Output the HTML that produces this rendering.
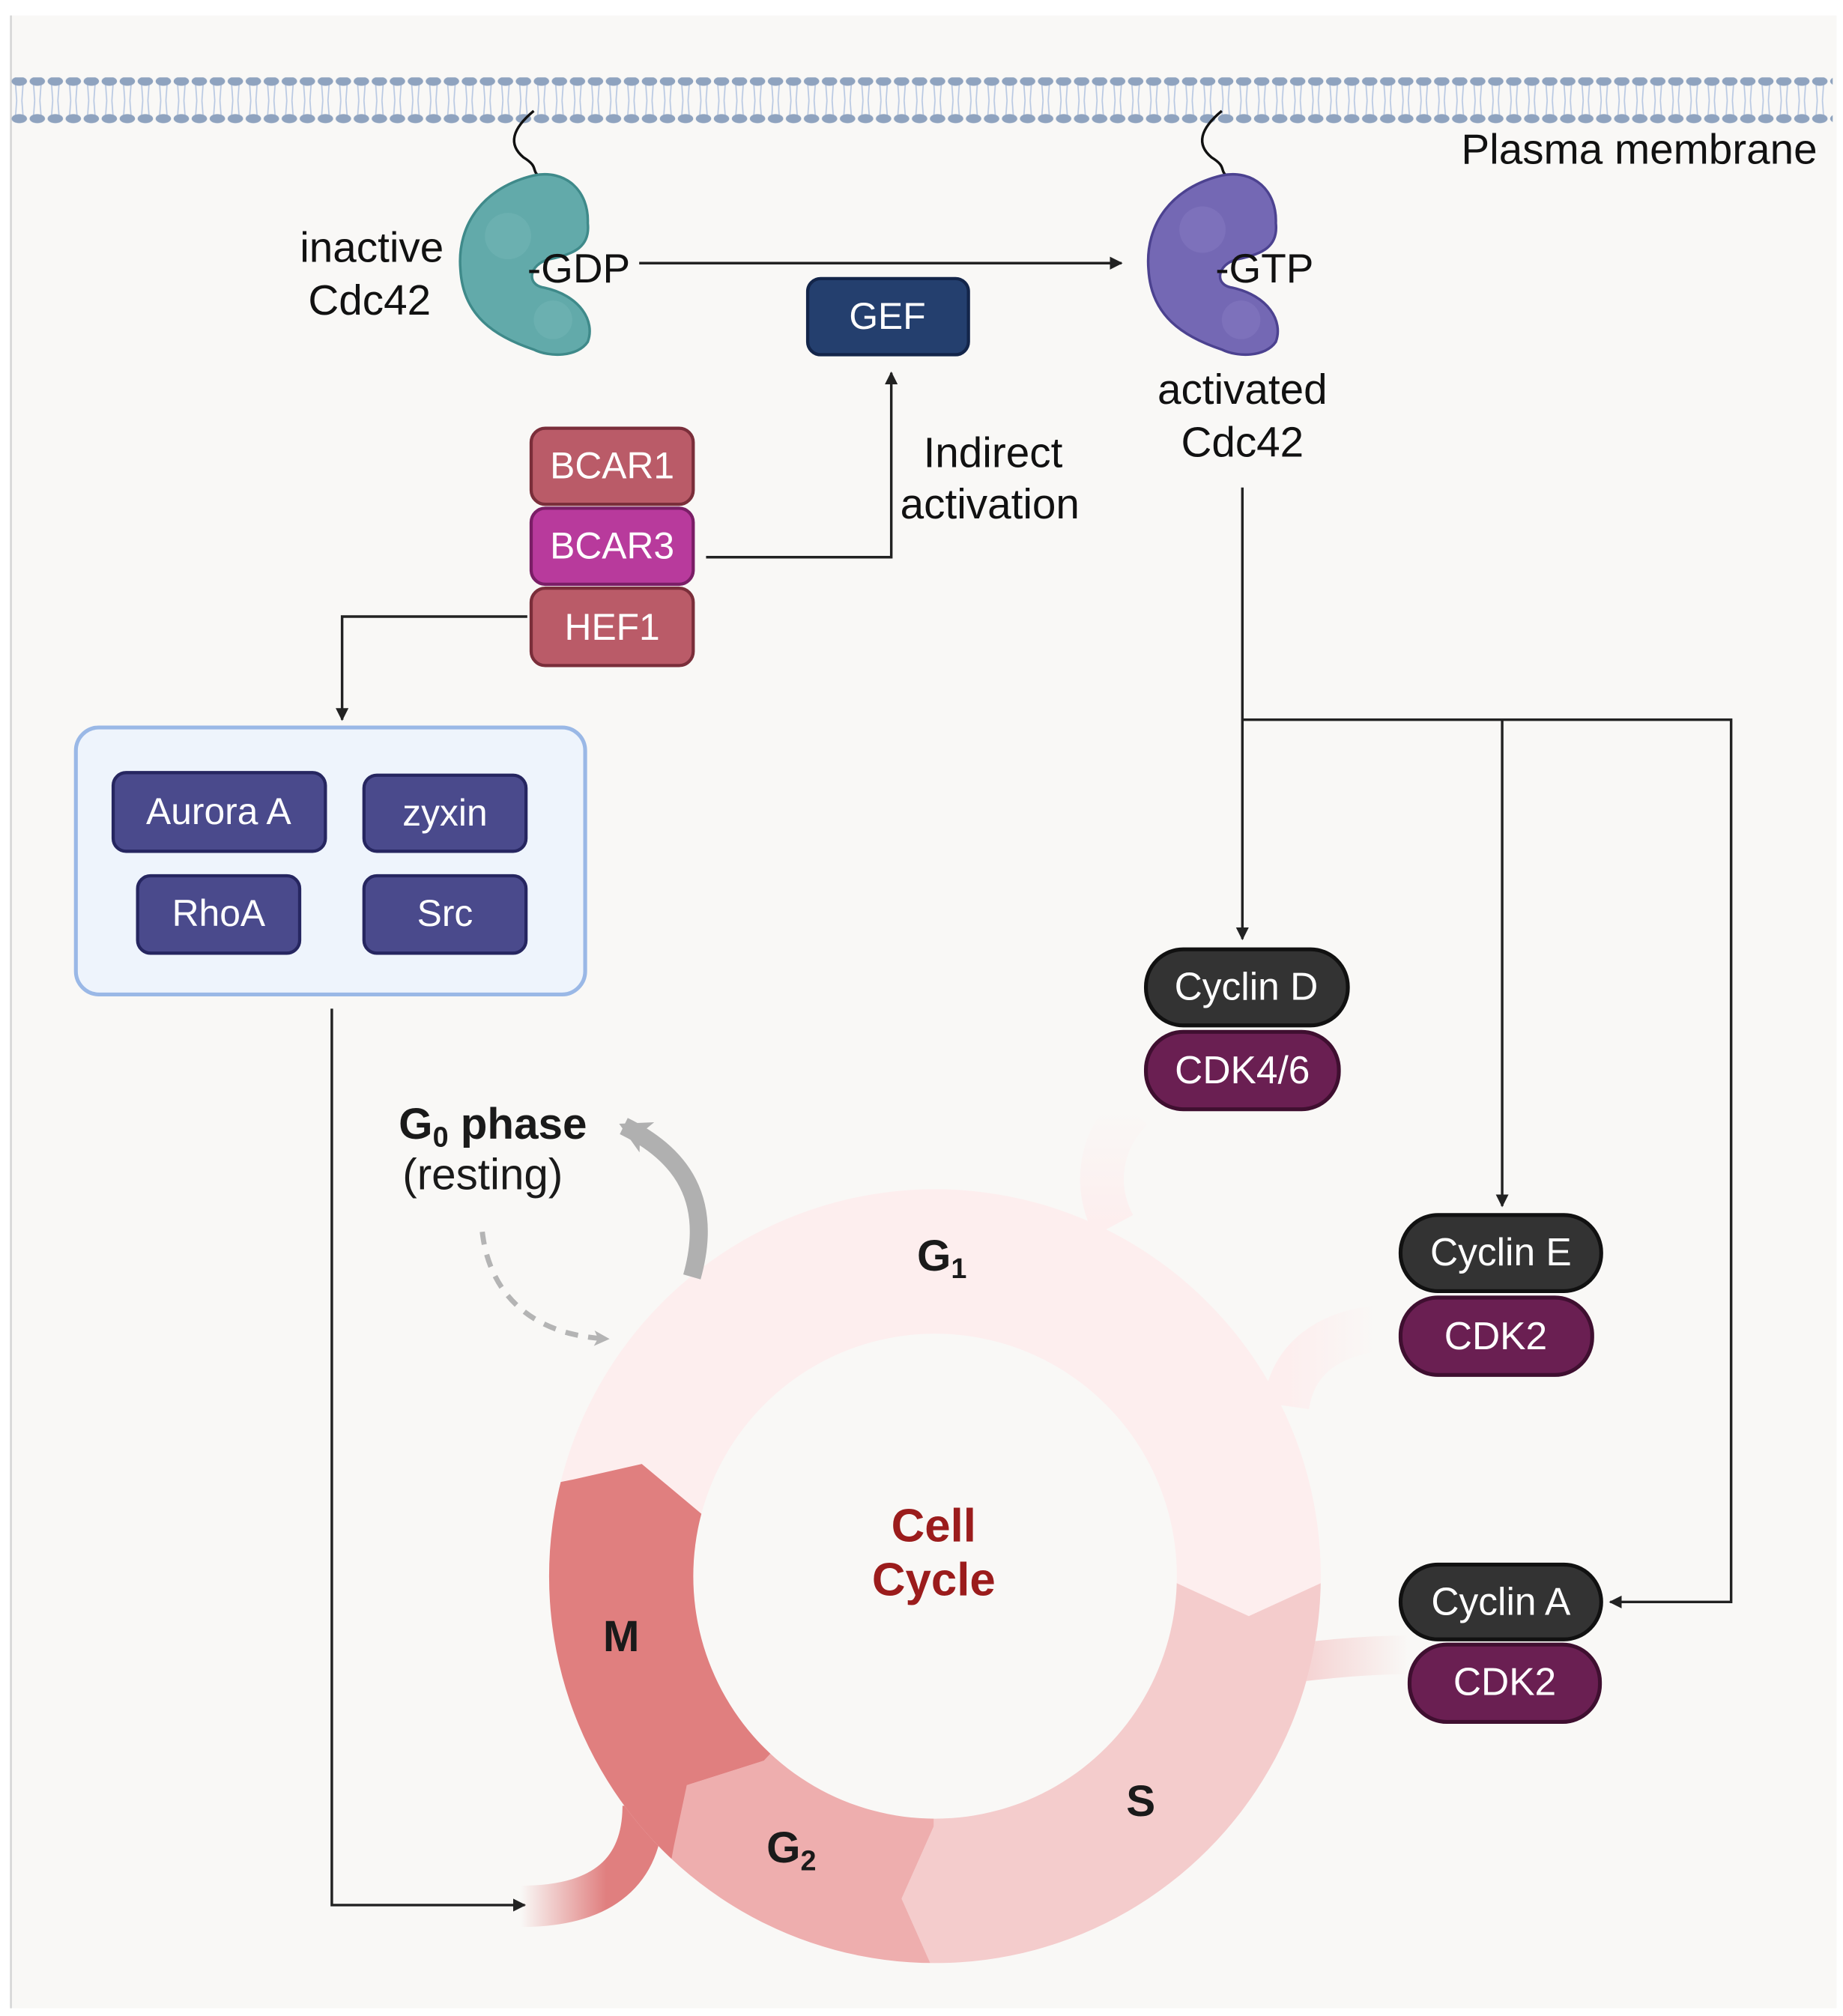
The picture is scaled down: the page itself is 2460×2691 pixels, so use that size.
<!DOCTYPE html>
<html><head><meta charset="utf-8"><style>
html,body{margin:0;padding:0;background:#fff}
svg{display:block}
text{font-family:"Liberation Sans",sans-serif}
</style></head><body>
<svg width="2460" height="2691" viewBox="0 0 1433 1563" preserveAspectRatio="none" xmlns="http://www.w3.org/2000/svg">
<defs>
<pattern id="mem" x="8" y="60" width="14" height="40" patternUnits="userSpaceOnUse">
<path d="M4 64 L5 78 M10 64 L9 78 M5 78 L4 91 M9 78 L10 91" stroke="#b8c8e2" stroke-width="1" fill="none" transform="translate(0,-60)"/>
<ellipse cx="7" cy="3" rx="6" ry="3.5" fill="#8fa3bf"/>
<ellipse cx="7" cy="32" rx="6" ry="3.5" fill="#8fa3bf"/>
</pattern>
<clipPath id="ring"><path clip-rule="evenodd" d="M727 922 A300 300 0 1 1 726.9 922 Z M727 1034 A188 188 0 1 0 727.1 1034 Z"/></clipPath>
<marker id="ah" markerWidth="10" markerHeight="10" refX="9" refY="5" orient="auto" markerUnits="userSpaceOnUse"><path d="M0 0 L10 5 L0 10 Z" fill="#222"/></marker>
<marker id="gh" markerWidth="12" markerHeight="12" refX="10" refY="6" orient="auto" markerUnits="userSpaceOnUse"><path d="M0 0 L12 6 L0 12 L3 6 Z" fill="#b4b4b4"/></marker>
<marker id="gh2" markerWidth="30" markerHeight="30" refX="20" refY="15" orient="auto" markerUnits="userSpaceOnUse"><path d="M0 2 L24 15 L0 28 L6 15 Z" fill="#b0b0b0"/></marker>
<linearGradient id="fu" x1="0" y1="1" x2="0" y2="0"><stop offset="0" stop-color="#fdeeee"/><stop offset="1" stop-color="#fdeeee" stop-opacity="0"/></linearGradient>
<linearGradient id="fr" x1="0" y1="0" x2="1" y2="0"><stop offset="0" stop-color="#fdeeee"/><stop offset="1" stop-color="#fdeeee" stop-opacity="0"/></linearGradient>
<linearGradient id="fs" x1="0" y1="0" x2="1" y2="0"><stop offset="0" stop-color="#f4cccc"/><stop offset="1" stop-color="#f4cccc" stop-opacity="0"/></linearGradient>
<linearGradient id="fm" x1="1" y1="0" x2="0" y2="0"><stop offset="0.3" stop-color="#e07f7f"/><stop offset="1" stop-color="#e07f7f" stop-opacity="0"/></linearGradient>
</defs>
<rect x="0" y="0" width="1433" height="1563" fill="#fff"/>
<rect x="8" y="12" width="1420" height="1545" fill="#f9f8f6"/>
<line x1="8.5" y1="12" x2="8.5" y2="1557" stroke="#d6d6d6" stroke-width="1.5"/>
<!-- membrane -->
<rect x="8" y="59" width="1417" height="38" fill="url(#mem)"/>
<text x="1413" y="127" font-size="33" text-anchor="end" fill="#111">Plasma membrane</text>

<!-- inactive cdc42 -->
<path d="M415 86 C 398 100, 395 112, 407 122 C 420 130, 412 132, 420 137" stroke="#111" stroke-width="2" fill="none"/>
<path d="M415 86 C 398 100, 395 112, 407 122 C 420 130, 412 132, 420 137" stroke="#111" stroke-width="2" fill="none" transform="translate(535,0)"/>
<g transform="translate(355,133)">
<path d="M60 3 C 85 -2, 103 15, 102 40 C 104 58, 92 64, 72 68 C 56 72, 54 88, 68 90 C 96 96, 108 116, 102 132 C 94 144, 72 144, 60 138 C 30 128, 5 112, 3 76 C 0 40, 22 12, 60 3 Z" fill="#62aaaa" stroke="#3f8a8a" stroke-width="2"/>
<circle cx="40" cy="50" r="18" fill="#72b4b4" opacity="0.6"/><circle cx="75" cy="115" r="15" fill="#72b4b4" opacity="0.6"/>
</g>
<g transform="translate(890,133)">
<path d="M60 3 C 85 -2, 103 15, 102 40 C 104 58, 92 64, 72 68 C 56 72, 54 88, 68 90 C 96 96, 108 116, 102 132 C 94 144, 72 144, 60 138 C 30 128, 5 112, 3 76 C 0 40, 22 12, 60 3 Z" fill="#7468b4" stroke="#4c4290" stroke-width="2"/>
<circle cx="45" cy="45" r="18" fill="#8478bf" opacity="0.6"/><circle cx="75" cy="115" r="15" fill="#8478bf" opacity="0.6"/>
</g>
<text x="345" y="203" font-size="33" text-anchor="end" fill="#111">inactive</text>
<text x="335" y="244" font-size="33" text-anchor="end" fill="#111">Cdc42</text>
<text x="410" y="219" font-size="32" fill="#111">-GDP</text>
<line x1="497" y1="204" x2="872" y2="204" stroke="#222" stroke-width="2" marker-end="url(#ah)"/>
<text x="945" y="219" font-size="32" fill="#111">-GTP</text>
<text x="966" y="313" font-size="33" text-anchor="middle" fill="#111">activated</text>
<text x="966" y="354" font-size="33" text-anchor="middle" fill="#111">Cdc42</text>

<!-- GEF -->
<rect x="628" y="216" width="125" height="59" rx="10" fill="#243f6e" stroke="#13254a" stroke-width="2.5"/>
<text x="690" y="255" font-size="29" text-anchor="middle" fill="#fff">GEF</text>

<!-- BCAR stack -->
<rect x="413" y="332" width="126" height="59" rx="11" fill="#ba5b68" stroke="#7a2e3a" stroke-width="2.5"/>
<text x="476" y="371" font-size="29" text-anchor="middle" fill="#fff">BCAR1</text>
<rect x="413" y="394" width="126" height="59" rx="11" fill="#b83a9c" stroke="#7a1e66" stroke-width="2.5"/>
<text x="476" y="433" font-size="29" text-anchor="middle" fill="#fff">BCAR3</text>
<rect x="413" y="456" width="126" height="60" rx="11" fill="#ba5b68" stroke="#7a2e3a" stroke-width="2.5"/>
<text x="476" y="496" font-size="29" text-anchor="middle" fill="#fff">HEF1</text>

<polyline points="549,432 693,432 693,289" fill="none" stroke="#222" stroke-width="2" marker-end="url(#ah)"/>
<text x="718" y="362" font-size="33" fill="#111">Indirect</text>
<text x="700" y="402" font-size="33" fill="#111">activation</text>
<polyline points="410,478 266,478 266,558" fill="none" stroke="#222" stroke-width="2" marker-end="url(#ah)"/>

<!-- blue box -->
<rect x="59" y="564" width="396" height="207" rx="18" fill="#eef4fc" stroke="#9ab8e6" stroke-width="3"/>
<rect x="88" y="599" width="165" height="61" rx="10" fill="#4a4a8c" stroke="#262660" stroke-width="2.5"/>
<text x="170" y="639" font-size="29" text-anchor="middle" fill="#fff">Aurora A</text>
<rect x="283" y="601" width="126" height="59" rx="10" fill="#4a4a8c" stroke="#262660" stroke-width="2.5"/>
<text x="346" y="640" font-size="29" text-anchor="middle" fill="#fff">zyxin</text>
<rect x="107" y="679" width="126" height="60" rx="10" fill="#4a4a8c" stroke="#262660" stroke-width="2.5"/>
<text x="170" y="718" font-size="29" text-anchor="middle" fill="#fff">RhoA</text>
<rect x="283" y="679" width="126" height="60" rx="10" fill="#4a4a8c" stroke="#262660" stroke-width="2.5"/>
<text x="346" y="718" font-size="29" text-anchor="middle" fill="#fff">Src</text>

<polyline points="258,782 258,1477 408,1477" fill="none" stroke="#222" stroke-width="2" marker-end="url(#ah)"/>

<!-- right connectors -->
<line x1="966" y1="378" x2="966" y2="728" stroke="#222" stroke-width="2" marker-end="url(#ah)"/>
<polyline points="966,558 1346,558 1346,1242 1252,1242" fill="none" stroke="#222" stroke-width="2" marker-end="url(#ah)"/>
<line x1="1168" y1="558" x2="1168" y2="935" stroke="#222" stroke-width="2" marker-end="url(#ah)"/>

<!-- stubs -->
<path d="M866 950 C 850 920, 855 885, 880 860" stroke="url(#fu)" stroke-width="34" fill="none"/>
<path d="M1000 1090 C 1005 1055, 1030 1035, 1070 1030" stroke="url(#fr)" stroke-width="36" fill="none"/>
<path d="M1000 1290 C 1040 1285, 1070 1283, 1095 1283" stroke="url(#fs)" stroke-width="30" fill="none"/>
<path d="M500 1400 C 500 1450, 470 1478, 405 1478" stroke="url(#fm)" stroke-width="32" fill="none"/>

<!-- ring -->
<g clip-path="url(#ring)">
<rect x="400" y="900" width="660" height="650" fill="#fdeeee"/>
<polygon points="727,1222 914,1227 971,1253 1028,1227 1100,1227 1100,1560 726,1560 726,1528 701,1472 726,1416" fill="#f4cccc"/>
<polygon points="727,1222 726,1416 701,1472 726,1528 726,1560 500,1560 520,1431 534,1384 594,1365" fill="#eeaeae"/>
<polygon points="727,1222 594,1365 534,1384 524,1431 500,1560 380,1560 380,1160 446,1147 499,1135 547,1175" fill="#e07f7f"/>
</g>

<!-- cyclins -->
<rect x="891" y="736" width="157" height="59" rx="29" fill="#333" stroke="#111" stroke-width="3"/>
<text x="969" y="775" font-size="30" text-anchor="middle" fill="#fff">Cyclin D</text>
<rect x="891" y="800" width="150" height="60" rx="29" fill="#6a1f52" stroke="#3f0f30" stroke-width="3"/>
<text x="966" y="840" font-size="30" text-anchor="middle" fill="#fff">CDK4/6</text>
<rect x="1089" y="942" width="156" height="59" rx="29" fill="#333" stroke="#111" stroke-width="3"/>
<text x="1167" y="981" font-size="30" text-anchor="middle" fill="#fff">Cyclin E</text>
<rect x="1089" y="1006" width="149" height="60" rx="29" fill="#6a1f52" stroke="#3f0f30" stroke-width="3"/>
<text x="1163" y="1046" font-size="30" text-anchor="middle" fill="#fff">CDK2</text>
<rect x="1089" y="1213" width="156" height="58" rx="29" fill="#333" stroke="#111" stroke-width="3"/>
<text x="1167" y="1252" font-size="30" text-anchor="middle" fill="#fff">Cyclin A</text>
<rect x="1096" y="1275" width="148" height="60" rx="29" fill="#6a1f52" stroke="#3f0f30" stroke-width="3"/>
<text x="1170" y="1314" font-size="30" text-anchor="middle" fill="#fff">CDK2</text>

<!-- G0 -->
<text x="310" y="883" font-size="34" font-weight="bold" fill="#1a1a1a">G<tspan font-size="22" dy="6">0</tspan><tspan dy="-6"> phase</tspan></text>
<text x="313" y="922" font-size="34" fill="#1a1a1a">(resting)</text>
<path d="M538 990 C 555 930, 530 895, 485 873" stroke="#b0b0b0" stroke-width="14" fill="none" marker-end="url(#gh2)"/>
<path d="M375 955 C 380 1000, 410 1035, 472 1038" stroke="#b4b4b4" stroke-width="4" stroke-dasharray="10 8" fill="none" marker-end="url(#gh)"/>

<!-- ring labels -->
<text x="713" y="985" font-size="34" font-weight="bold" fill="#1a1a1a">G<tspan font-size="22" dy="6">1</tspan></text>
<text x="726" y="1195" font-size="36" font-weight="bold" text-anchor="middle" fill="#9b1c1c">Cell</text>
<text x="726" y="1237" font-size="36" font-weight="bold" text-anchor="middle" fill="#9b1c1c">Cycle</text>
<text x="483" y="1280" font-size="34" font-weight="bold" text-anchor="middle" fill="#1a1a1a">M</text>
<text x="887" y="1408" font-size="34" font-weight="bold" text-anchor="middle" fill="#1a1a1a">S</text>
<text x="596" y="1444" font-size="34" font-weight="bold" fill="#1a1a1a">G<tspan font-size="22" dy="6">2</tspan></text>
</svg>
</body></html>
